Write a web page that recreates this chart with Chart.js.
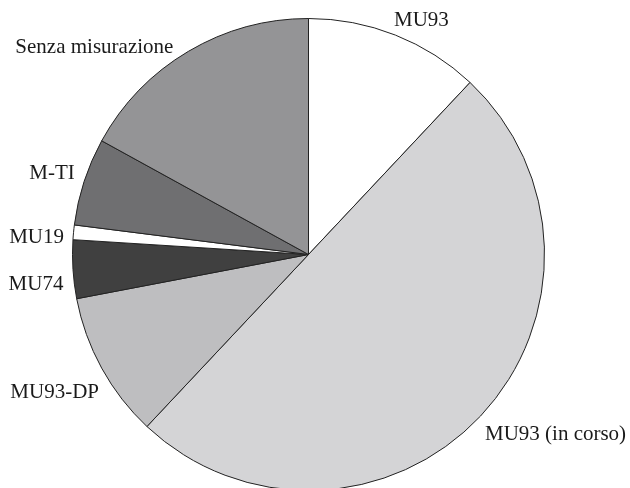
<!DOCTYPE html>
<html>
<head>
<meta charset="utf-8">
<script src="https://cdn.jsdelivr.net/npm/chart.js@4/dist/chart.umd.min.js"></script>
<style>
  html, body { margin: 0; padding: 0; background: #fff; overflow: hidden; }
  #wrap { position: absolute; left: 0; top: 0; width: 630px; height: 510px; }
</style>
</head>
<body>
<div id="wrap"><canvas id="pieChart"></canvas></div>
<script>
// Categories and values (clockwise from 12 o'clock)
const categories = ['MU93', 'MU93 (in corso)', 'MU93-DP', 'MU74', 'MU19', 'M-TI', 'Senza misurazione'];
const values = [12, 50, 10, 4, 1, 6, 17];
const sliceColors = ['#ffffff', '#d4d4d6', '#bebec0', '#404040', '#ffffff', '#6f6f71', '#949496'];

// label nudges relative to the outer middle point of each slice
const labelNudge = [[26, -9], [75, 24], [-47, 30], [-37, 21], [-37, 11], [-32, -3], [-94, 2]];

const sliceLabels = {
  id: 'sliceLabels',
  afterDatasetsDraw(chart) {
    const ctx = chart.ctx;
    const meta = chart.getDatasetMeta(0);
    ctx.save();
    ctx.font = '21px "Liberation Serif", "DejaVu Serif", serif';
    ctx.fillStyle = '#1a1a1a';
    ctx.textAlign = 'center';
    ctx.textBaseline = 'alphabetic';
    meta.data.forEach((arc, i) => {
      const p = arc.getProps(['x', 'y', 'startAngle', 'endAngle', 'outerRadius'], true);
      const mid = (p.startAngle + p.endAngle) / 2;
      const ox = p.x + Math.cos(mid) * p.outerRadius;
      const oy = p.y + Math.sin(mid) * p.outerRadius;
      ctx.fillText(chart.data.labels[i], ox + labelNudge[i][0], oy + labelNudge[i][1]);
    });
    ctx.restore();
  }
};

new Chart(document.getElementById('pieChart'), {
  type: 'pie',
  data: {
    labels: categories,
    datasets: [{
      data: values,
      backgroundColor: sliceColors,
      borderColor: '#222222',
      borderWidth: 1
    }]
  },
  options: {
    responsive: true,
    maintainAspectRatio: false,
    animation: false,
    radius: 236,
    layout: { padding: { left: 0, right: 13, top: 0, bottom: 1 } },
    plugins: {
      legend: { display: false },
      tooltip: { enabled: false }
    }
  },
  plugins: [sliceLabels]
});
</script>
</body>
</html>
